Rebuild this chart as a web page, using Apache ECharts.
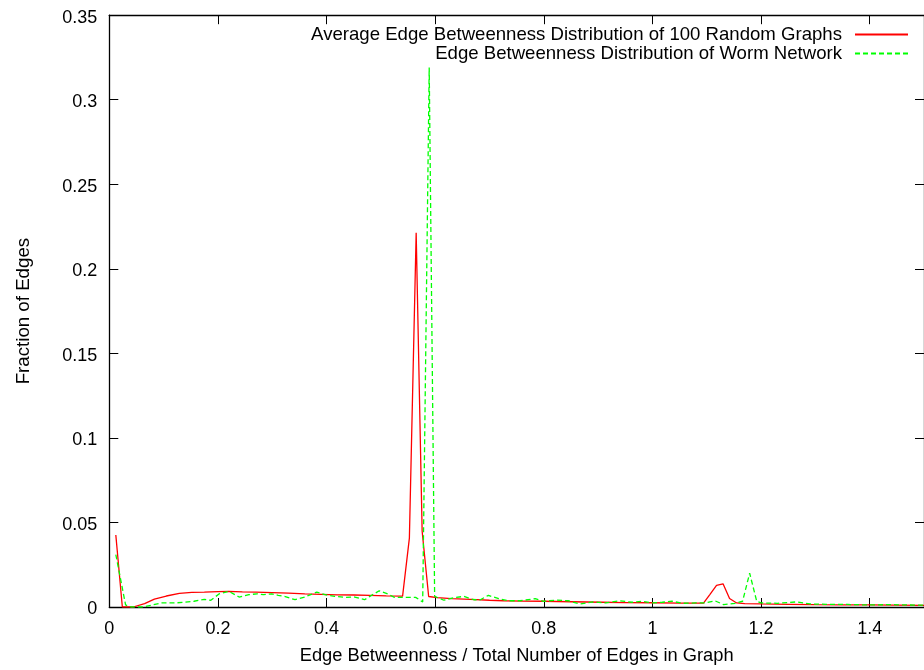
<!DOCTYPE html>
<html>
<head>
<meta charset="utf-8">
<script src="https://cdn.jsdelivr.net/npm/echarts@6/dist/echarts.min.js"></script>
<style>
html,body{margin:0;padding:0;background:#fff;}
#chart{width:924px;height:670px;}
</style>
</head>
<body>
<div id="chart"></div>
<script>
// ---- data ----
const seriesNames = [
  "Average Edge Betweenness Distribution of 100 Random Graphs",
  "Edge Betweenness Distribution of Worm Network"
];
const xAxisTitle = "Edge Betweenness / Total Number of Edges in Graph";
const yAxisTitle = "Fraction of Edges";

const randomX = [0.012,0.024,0.044,0.065,0.083,0.105,0.129,0.152,0.175,0.2,0.22,0.245,0.27,0.3,0.33,0.36,0.39,0.42,0.45,0.48,0.51,0.54,0.5525,0.565,0.576,0.588,0.604,0.63,0.665,0.7,0.726,0.76,0.8,0.85,0.908,0.95,1.0,1.05,1.094,1.106,1.118,1.13,1.142,1.155,1.17,1.2,1.25,1.3,1.35,1.4,1.45,1.5];
const randomY = [0.0426,0,0,0.002,0.0047,0.0065,0.0081,0.0086,0.0088,0.0091,0.0093,0.009,0.0088,0.0085,0.0082,0.0078,0.0075,0.0072,0.0071,0.0069,0.0066,0.0064,0.0407,0.2214,0.0448,0.0062,0.0055,0.005,0.0045,0.004,0.0037,0.0035,0.0034,0.0031,0.0028,0.0026,0.0025,0.0023,0.0023,0.0075,0.0128,0.0137,0.005,0.0024,0.002,0.0018,0.0016,0.0014,0.0013,0.0012,0.0011,0.001];

const wormX = [0.012,0.03,0.04,0.06,0.077,0.096,0.12,0.138,0.156,0.175,0.187,0.202,0.22,0.239,0.257,0.272,0.284,0.299,0.311,0.324,0.342,0.36,0.382,0.397,0.415,0.434,0.452,0.47,0.482,0.497,0.513,0.525,0.549,0.564,0.577,0.589,0.599,0.616,0.631,0.653,0.671,0.683,0.698,0.717,0.735,0.756,0.784,0.8,0.823,0.845,0.866,0.89,0.914,0.939,0.963,0.981,1.0,1.018,1.036,1.055,1.079,1.097,1.115,1.131,1.152,1.166,1.179,1.192,1.2,1.23,1.265,1.29,1.32,1.36,1.4,1.44,1.47,1.5];
const wormY = [0.031,0.0012,0,0,0.001,0.0024,0.0024,0.0028,0.0034,0.0045,0.004,0.0077,0.0093,0.0059,0.0073,0.0078,0.0073,0.0078,0.0069,0.0062,0.0043,0.0059,0.0088,0.0073,0.0063,0.0057,0.0059,0.0043,0.0067,0.0096,0.0077,0.0057,0.0057,0.0057,0.003,0.319,0.0063,0.004,0.0053,0.0063,0.0043,0.0043,0.0069,0.0049,0.0037,0.0037,0.0049,0.0034,0.0041,0.0037,0.0018,0.003,0.0024,0.0037,0.0028,0.0034,0.0024,0.0028,0.0034,0.0022,0.0024,0.0024,0.0037,0.0014,0.0022,0.0034,0.02,0.0034,0.0024,0.0022,0.003,0.0018,0.0016,0.0015,0.0012,0.0014,0.0012,0.0011];

const xMin = 0, xMax = 1.5, xStep = 0.2;
const yMin = 0, yMax = 0.35, yStep = 0.05;

// ---- chart ----
const FONT = "Liberation Sans";
const pairs = (xs, ys) => xs.map((x, i) => [x, ys[i]]);
const chart = echarts.init(document.getElementById('chart'), null, {renderer: 'canvas'});
const tickStyle = {show: true, inside: true, length: 9, lineStyle: {color: '#000', width: 1}};
const lineStyleAxis = {show: true, onZero: false, lineStyle: {color: '#000', width: 1.3}};
const legendCommon = {
  right: 15, padding: 0, align: 'right', itemWidth: 53, itemHeight: 16,
  itemStyle: {opacity: 0},
  textStyle: {fontFamily: FONT, fontSize: 18.6, color: '#000', padding: [0, 8, 0, 0]}
};

chart.setOption({
  animation: false,
  backgroundColor: '#fff',
  textStyle: {fontFamily: FONT},
  grid: {left: 109.3, top: 15.2, width: 821.2, height: 593.8, containLabel: false},
  legend: [
    Object.assign({data: [seriesNames[0]], top: 25}, legendCommon),
    Object.assign({data: [seriesNames[1]], top: 44}, legendCommon)
  ],
  xAxis: [
    {
      type: 'value', min: xMin, max: xMax, interval: xStep, position: 'bottom',
      name: xAxisTitle, nameLocation: 'middle', nameGap: 40,
      nameTextStyle: {fontFamily: FONT, fontSize: 18.3, color: '#000'},
      axisLine: lineStyleAxis, axisTick: tickStyle,
      axisLabel: {fontFamily: FONT, fontSize: 18, color: '#000', margin: 13, showMaxLabel: false},
      splitLine: {show: false}
    },
    {
      type: 'value', min: xMin, max: xMax, interval: xStep, position: 'top',
      axisLine: lineStyleAxis, axisTick: tickStyle,
      axisLabel: {show: false}, splitLine: {show: false}
    }
  ],
  yAxis: [
    {
      type: 'value', min: yMin, max: yMax, interval: yStep, position: 'left',
      name: yAxisTitle, nameLocation: 'middle', nameGap: 76, nameRotate: 90,
      nameTextStyle: {fontFamily: FONT, fontSize: 18.7, color: '#000'},
      axisLine: lineStyleAxis, axisTick: tickStyle,
      axisLabel: {
        fontFamily: FONT, fontSize: 18, color: '#000', margin: 12,
        formatter: '{v|{value}}',
        rich: {v: {fontFamily: FONT, fontSize: 18, color: '#000', padding: [5, 0, 0, 0]}}
      },
      splitLine: {show: false}
    },
    {
      type: 'value', min: yMin, max: yMax, interval: yStep, position: 'right',
      axisLine: lineStyleAxis, axisTick: tickStyle,
      axisLabel: {show: false}, splitLine: {show: false}
    }
  ],
  series: [
    {
      name: seriesNames[0], type: 'line', xAxisIndex: 0, yAxisIndex: 0,
      data: pairs(randomX, randomY), symbol: 'none', showSymbol: false,
      itemStyle: {color: '#ff0000'},
      lineStyle: {color: '#ff0000', width: 1.3}
    },
    {
      name: seriesNames[1], type: 'line', xAxisIndex: 0, yAxisIndex: 0,
      data: pairs(wormX, wormY), symbol: 'none', showSymbol: false,
      itemStyle: {color: '#00ff00'},
      lineStyle: {color: '#00ff00', width: 1.3, type: [5, 3]}
    }
  ]
});
</script>
</body>
</html>
